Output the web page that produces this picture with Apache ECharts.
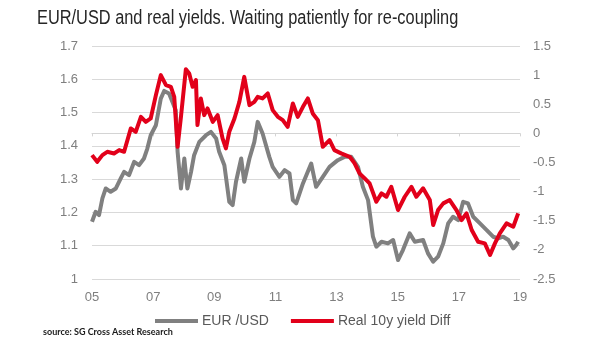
<!DOCTYPE html>
<html>
<head>
<meta charset="utf-8">
<script src="https://cdn.jsdelivr.net/npm/echarts@6/dist/echarts.min.js"></script>
<style>
  html, body { margin: 0; padding: 0; background: #ffffff; }
  #chart { width: 605px; height: 341px; }
</style>
</head>
<body>
<div id="chart"></div>
<script>
// EUR/USD spot (left axis), decimal years
const eurDates = [
  2005.00, 2005.12, 2005.23, 2005.34, 2005.45, 2005.61, 2005.78, 2005.94,
  2006.05, 2006.21, 2006.38, 2006.54, 2006.70, 2006.81, 2006.92, 2007.09,
  2007.25, 2007.36, 2007.52, 2007.74, 2007.80, 2007.91, 2008.02, 2008.12,
  2008.24, 2008.34, 2008.51, 2008.73, 2008.89, 2009.06, 2009.16, 2009.33,
  2009.49, 2009.60, 2009.71, 2009.88, 2009.98, 2010.15, 2010.31, 2010.42,
  2010.58, 2010.80, 2010.91, 2011.13, 2011.30, 2011.46, 2011.57,
  2011.68, 2011.90, 2012.17, 2012.33, 2012.55, 2012.77, 2013.04, 2013.26,
  2013.48, 2013.70, 2013.86, 2014.03, 2014.19, 2014.30, 2014.47, 2014.68,
  2014.85, 2015.01, 2015.17, 2015.39, 2015.56, 2015.83, 2015.99, 2016.16,
  2016.32, 2016.49, 2016.65, 2016.81, 2016.98, 2017.14, 2017.30, 2017.47,
  2017.69, 2017.91, 2018.12, 2018.29, 2018.45, 2018.62, 2018.78, 2018.86,
  2018.94
];
const eurUsd = [
  1.172, 1.202, 1.192, 1.242, 1.272, 1.262, 1.272, 1.302,
  1.322, 1.312, 1.352, 1.342, 1.362, 1.392, 1.432, 1.462,
  1.542, 1.565, 1.557, 1.507, 1.382, 1.272, 1.362, 1.272,
  1.322, 1.372, 1.412, 1.432, 1.442, 1.422, 1.382, 1.342,
  1.232, 1.222, 1.292, 1.362, 1.292, 1.362, 1.412, 1.472,
  1.437, 1.367, 1.337, 1.307, 1.327, 1.317, 1.237,
  1.227, 1.287, 1.347, 1.277, 1.307, 1.337, 1.357, 1.367,
  1.367, 1.337, 1.277, 1.237, 1.127, 1.097, 1.112, 1.107,
  1.117, 1.057, 1.087, 1.137, 1.112, 1.117, 1.077, 1.052,
  1.067, 1.107, 1.167, 1.187, 1.177, 1.232, 1.227, 1.187,
  1.167, 1.147, 1.127, 1.122, 1.127, 1.117, 1.092, 1.100,
  1.112
];

// Real 10y yield differential (right axis), decimal years
const yieldDates = [
  2005.00, 2005.17, 2005.34, 2005.50, 2005.72, 2005.89, 2006.05, 2006.27,
  2006.43, 2006.60, 2006.76, 2006.92, 2007.09, 2007.25, 2007.42, 2007.58,
  2007.69, 2007.80, 2007.91, 2008.07, 2008.18, 2008.29, 2008.40, 2008.45,
  2008.56, 2008.67, 2008.78, 2008.95, 2009.11, 2009.27, 2009.38, 2009.49,
  2009.66, 2009.82, 2009.98, 2010.15, 2010.31, 2010.42, 2010.58, 2010.75,
  2010.91, 2011.08, 2011.24, 2011.40, 2011.57, 2011.73, 2011.90, 2012.06,
  2012.22, 2012.39, 2012.55, 2012.77, 2012.93, 2013.15, 2013.43, 2013.59,
  2013.75, 2013.92, 2014.08, 2014.30, 2014.47, 2014.63, 2014.79, 2015.01,
  2015.23, 2015.45, 2015.61, 2015.83, 2016.05, 2016.16, 2016.32, 2016.49,
  2016.70, 2016.92, 2017.09, 2017.25, 2017.42, 2017.63, 2017.85, 2018.02,
  2018.18, 2018.34, 2018.56, 2018.78, 2018.94
];
const yieldDiff = [
  -0.373, -0.488, -0.373, -0.316, -0.345, -0.287, -0.316, 0.085,
  0.027, 0.284, 0.198, 0.256, 0.656, 1.000, 0.828, 0.800,
  0.627, -0.231, 0.284, 1.100, 1.028, 0.799, 0.914, 0.142,
  0.599, 0.313, 0.428, 0.198, 0.313, -0.087, -0.258, 0.027,
  0.256, 0.541, 0.970, 0.485, 0.541, 0.627, 0.600, 0.685,
  0.399, 0.284, 0.227, 0.112, 0.513, 0.284, 0.456, 0.600,
  0.342, 0.227, -0.231, -0.116, -0.288, -0.344, -0.402, -0.515,
  -0.687, -0.773, -0.858, -1.174, -1.030, -1.088, -0.917, -1.316,
  -1.088, -0.917, -1.088, -0.944, -1.145, -1.574, -1.316, -1.202,
  -1.145, -1.316, -1.488, -1.373, -1.659, -1.860, -1.888, -2.088,
  -1.888, -1.716, -1.545, -1.602, -1.373
];

const seriesNames = ['EUR /USD', 'Real 10y yield Diff'];
const titleText = 'EUR/USD and real yields. Waiting patiently for re-coupling';
const sourceText = 'source: SG Cross Asset Research';

const zip = (xs, ys) => xs.map((x, i) => [x, ys[i]]);

const axisFont = "'Liberation Sans', Arial, sans-serif";

const chart = echarts.init(document.getElementById('chart'), null, { renderer: 'canvas' });

chart.setOption({
  animation: false,
  backgroundColor: '#ffffff',
  grid: { left: 92, right: 85, top: 46, bottom: 62, containLabel: false },
  graphic: [
    {
      // condensed headline: regular sans squeezed horizontally
      type: 'text', x: 37, y: 8, scaleX: 0.818, scaleY: 1,
      style: { text: titleText, fill: '#262626', font: "20px 'Liberation Sans', Arial, sans-serif" }
    },
    {
      type: 'text', left: 43, top: 328,
      style: { text: sourceText, fill: '#1a1a1a', font: "bold 9px Lato, 'Liberation Sans', sans-serif" }
    }
  ],
  legend: {
    left: 150, top: 309,
    icon: 'rect', itemWidth: 43, itemHeight: 4, itemGap: 22,
    textStyle: { color: '#595959', fontSize: 14, fontFamily: axisFont, padding: [0, 0, 0, -1] },
    data: seriesNames
  },
  xAxis: {
    type: 'value', min: 2005, max: 2019, interval: 2,
    axisLine: { show: true, lineStyle: { color: '#d4d4d4', width: 1 } },
    axisTick: { show: true, length: 3, inside: false, lineStyle: { color: '#d4d4d4' } },
    splitLine: { show: false },
    axisLabel: {
      color: '#7f7f7f', fontSize: 13, fontFamily: axisFont, margin: 12,
      formatter: v => String(Math.round(v)).slice(2)
    }
  },
  yAxis: [
    {
      type: 'value', min: 1, max: 1.7, interval: 0.1, position: 'left',
      axisLine: { show: false }, axisTick: { show: false },
      splitLine: { show: true, lineStyle: { color: '#d9d9d9', width: 1 } },
      axisLabel: { color: '#7f7f7f', fontSize: 13, fontFamily: axisFont, margin: 14 }
    },
    {
      type: 'value', min: -2.5, max: 1.5, interval: 0.5, position: 'right',
      axisLine: { show: false }, axisTick: { show: false },
      splitLine: { show: false },
      axisLabel: { color: '#7f7f7f', fontSize: 13, fontFamily: axisFont, margin: 13 }
    }
  ],
  series: [
    {
      name: seriesNames[0], type: 'line', yAxisIndex: 0,
      data: zip(eurDates, eurUsd),
      showSymbol: false, symbol: 'none', z: 2,
      lineStyle: { color: '#808080', width: 4, join: 'round' },
      itemStyle: { color: '#808080' }
    },
    {
      name: seriesNames[1], type: 'line', yAxisIndex: 1,
      data: zip(yieldDates, yieldDiff),
      showSymbol: false, symbol: 'none', z: 3,
      lineStyle: { color: '#e2001a', width: 4, join: 'round' },
      itemStyle: { color: '#e2001a' }
    }
  ]
});
</script>
</body>
</html>
